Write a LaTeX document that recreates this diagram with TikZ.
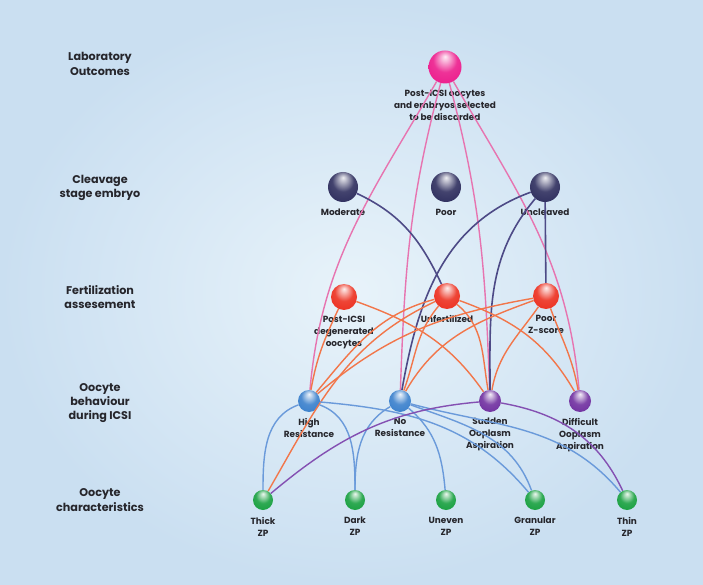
\documentclass[tikz,border=0pt]{standalone}
\usepackage{fontspec}
\setmainfont{Poppins}
\usetikzlibrary{positioning}

\definecolor{bgin}{HTML}{E8F3FA}
\definecolor{bgout}{HTML}{CADFF1}
\definecolor{txtgray}{HTML}{26262C}
\definecolor{pinkball}{HTML}{EC1C8C}
\definecolor{navyball}{HTML}{2E2E5E}
\definecolor{redball}{HTML}{EC3020}
\definecolor{blueball}{HTML}{3A80CC}
\definecolor{purpball}{HTML}{7030A0}
\definecolor{greenball}{HTML}{18A040}
\definecolor{pinkline}{HTML}{E774B0}
\definecolor{navyline}{HTML}{4D4A86}
\definecolor{orangeline}{HTML}{F2764A}
\definecolor{blueline}{HTML}{6A9ADA}
\definecolor{purpline}{HTML}{8450B2}

\colorlet{sphcol}{red}
\pgfdeclareradialshading[sphcol]{sphere}{\pgfqpoint{0bp}{16bp}}{%
  color(0bp)=(sphcol!8!white); color(5bp)=(sphcol!30!white);
  color(18bp)=(sphcol!90!white); color(34bp)=(sphcol);
  color(50bp)=(sphcol!75!black)}
\tikzset{sphere/.style={shade, shading=sphere, /utils/exec={\colorlet{sphcol}{#1}}}}

\begin{document}
\begin{tikzpicture}[x=1pt,y=1pt,font=\fontsize{8.9}{12}\selectfont\bfseries]
    \tikzstyle{ball_style} = [circle, inner sep=0pt]
    \tikzstyle{lbl_style} = [text=txtgray, align=center, inner sep=0pt]
    \tikzstyle{row_style} = [lbl_style, font=\fontsize{11.2}{14.3}\selectfont\bfseries]
    \tikzstyle{pink_style} = [pinkline, line width=1.4]
    \tikzstyle{navy_style} = [navyline, line width=1.6]
    \tikzstyle{orange_style} = [orangeline, line width=1.4]
    \tikzstyle{blue_style} = [blueline, line width=1.4]
    \tikzstyle{purp_style} = [purpline, line width=1.4]

    \shade[inner color=bgin, outer color=bgout] (0,0) rectangle (703,584);
    \useasboundingbox (0,0) rectangle (703,584);

    % row titles
    \node[row_style] (lab) at (100,520) {Laboratory\\Outcomes};
    \node[row_style] (clv) at (100,396) {Cleavage\\stage embryo};
    \node[row_style] (fert) at (100,287) {Fertilization\\assesement};
    \node[row_style] (beh) at (100,181) {Oocyte\\behaviour\\during ICSI};
    \node[row_style] (chr) at (100,84) {Oocyte\\characteristics};

    % spheres
    \node[ball_style, sphere=pinkball, minimum size=33] (disc) at (445,517) {};

    \node[ball_style, sphere=navyball, minimum size=30] (moder) at (343,397) {};
    \node[ball_style, sphere=navyball, minimum size=30] (poorc) at (446,397) {};
    \node[ball_style, sphere=navyball, minimum size=30] (uncl) at (545,397) {};

    \node[ball_style, sphere=redball, minimum size=26] (postd) at (344,287) {};
    \node[ball_style, sphere=redball, minimum size=26] (unfert) at (447,288) {};
    \node[ball_style, sphere=redball, minimum size=26] (poorz) at (546,288) {};

    \node[ball_style, sphere=blueball, minimum size=22] (highr) at (309,183) {};
    \node[ball_style, sphere=blueball, minimum size=22] (nores) at (400,183) {};
    \node[ball_style, sphere=purpball, minimum size=22] (sudden) at (490,183) {};
    \node[ball_style, sphere=purpball, minimum size=22] (diffic) at (580,183) {};

    \node[ball_style, sphere=greenball, minimum size=20] (thick) at (263,84) {};
    \node[ball_style, sphere=greenball, minimum size=20] (dark) at (355,84) {};
    \node[ball_style, sphere=greenball, minimum size=20] (uneven) at (446,84) {};
    \node[ball_style, sphere=greenball, minimum size=20] (granul) at (535,84) {};
    \node[ball_style, sphere=greenball, minimum size=20] (thin) at (627,84) {};

    % labels
    \node[lbl_style, below=6pt of disc] (disclbl) {Post-ICSI oocytes\\and embryos selected\\to be discarded};
    \node[lbl_style, below=7pt of moder] (moderlbl) {Moderate};
    \node[lbl_style, below=7pt of poorc] (poorclbl) {Poor};
    \node[lbl_style, below=7pt of uncl] (uncllbl) {Uncleaved};
    \node[lbl_style, below=6pt of postd] (postdlbl) {Post-ICSI\\degenerated\\oocytes};
    \node[lbl_style, below=6pt of unfert] (unfertlbl) {Unfertilized};
    \node[lbl_style, below=6pt of poorz] (poorzlbl) {Poor\\Z-score};
    \node[lbl_style, below=6pt of highr] (highrlbl) {High\\Resistance};
    \node[lbl_style, below=6pt of nores] (noreslbl) {No\\Resistance};
    \node[lbl_style, below=6pt of sudden] (suddenlbl) {Sudden\\Ooplasm\\Aspiration};
    \node[lbl_style, below=6pt of diffic] (difficlbl) {Difficult\\Ooplasm\\Aspiration};
    \node[lbl_style, below=7pt of thick] (thicklbl) {Thick\\ZP};
    \node[lbl_style, below=7pt of dark] (darklbl) {Dark\\ZP};
    \node[lbl_style, below=7pt of uneven] (unevenlbl) {Uneven\\ZP};
    \node[lbl_style, below=7pt of granul] (granullbl) {Granular\\ZP};
    \node[lbl_style, below=7pt of thin] (thinlbl) {Thin\\ZP};

    % laboratory outcome links
    \draw[pink_style] (disc) edge [out=240, in=85] (highr);
    \draw[pink_style] (disc) edge [out=255, in=88] (nores);
    \draw[pink_style] (disc) edge [out=285, in=92] (sudden);
    \draw[pink_style] (disc) edge [out=300, in=95] (diffic);

    % cleavage links
    \draw[navy_style] (moder) edge [out=-25, in=115] (unfert);
    \draw[navy_style] (uncl) edge [out=200, in=80] (nores);
    \draw[navy_style] (uncl) edge [out=230, in=90] (sudden);
    \draw[navy_style] (uncl) edge (poorz);

    % fertilization links
    \draw[orange_style] (postd) edge [out=245, in=80] (highr);
    \draw[orange_style] (postd) edge [out=-20, in=125] (sudden);
    \draw[orange_style] (unfert) edge [out=195, in=50] (highr);
    \draw[orange_style] (unfert) edge [out=205, in=60] (thick);
    \draw[orange_style] (unfert) edge [out=230, in=70] (nores);
    \draw[orange_style] (unfert) edge [out=-40, in=100] (sudden);
    \draw[orange_style] (unfert) edge [out=-20, in=120] (diffic);
    \draw[orange_style] (poorz) edge [out=190, in=40] (highr);
    \draw[orange_style] (poorz) edge [out=200, in=60] (nores);
    \draw[orange_style] (poorz) edge [out=235, in=80] (sudden);
    \draw[orange_style] (poorz) edge [out=-70, in=100] (diffic);

    % behaviour links
    \draw[blue_style] (highr) edge [out=200, in=90] (thick);
    \draw[blue_style] (highr) edge [out=-20, in=90] (dark);
    \draw[blue_style] (highr) edge [out=-5, in=130] (granul);
    \draw[blue_style] (nores) edge [out=210, in=90] (dark);
    \draw[blue_style] (nores) edge [out=-40, in=95] (uneven);
    \draw[blue_style] (nores) edge [out=-20, in=110] (granul);
    \draw[blue_style] (nores) edge [out=-15, in=130] (thin);
    \draw[purp_style] (sudden) edge [out=185, in=40] (thick);
    \draw[purp_style] (sudden) edge [out=-10, in=115] (thin);
\end{tikzpicture}
\end{document}
